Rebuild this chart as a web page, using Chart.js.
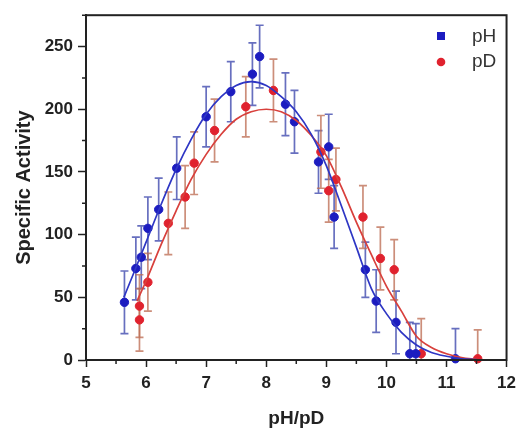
<!DOCTYPE html>
<html><head><meta charset="utf-8">
<script src="https://cdn.jsdelivr.net/npm/chart.js@4.4.1/dist/chart.umd.min.js"></script>
<style>html,body{margin:0;padding:0;background:#fff}canvas{display:block}</style>
</head><body>
<canvas id="c" width="522" height="428"></canvas>
<script>
// ---- data ----
const pHx   = [5.64,5.83,5.92,6.03,6.21,6.51,7.00,7.41,7.77,7.89,8.32,8.47,8.87,9.04,9.13,9.65,9.83,10.16,10.39,10.49,11.15];
const pHy   = [46,73,82,105,120,153,194,214,228,242,204,190,158,170,114,72,47,30,5,5,1];
const pHerr = [25,25,25,25,25,25,24,24,25,25,25,25,25,26,25,22,25,25,25,24,24];

const pDx   = [5.89,5.89,6.03,6.37,6.65,6.80,7.14,7.66,8.12,8.91,9.04,9.16,9.61,9.90,10.13,10.58,11.52];
const pDy   = [43,32,62,109,130,157,183,202,215,166,135,144,114,81,72,5,1];
const pDerr = [25,25,23,25,25,25,25,24,25,29,25,25,25,25,24,28,23];

const pHfitX = [5.63,5.8,6.0,6.25,6.5,6.75,7.0,7.25,7.5,7.75,8.0,8.25,8.5,8.75,9.0,9.25,9.5,9.75,10.0,10.25,10.5,10.75,11.0,11.25,11.5];
const pHfitY = [50,70,94,124,152,176,196,210,219,222,219,210,198,180,155,123,90,57,37,22,12,6,3,1,0.3];

const pDfitX = [5.85,6.0,6.25,6.5,6.75,7.0,7.25,7.5,7.75,8.0,8.25,8.5,8.75,9.0,9.25,9.5,9.75,10.0,10.25,10.5,10.75,11.0,11.25,11.5];
const pDfitY = [47,63,92,119,144,164,180,192,198,200,198,191,179,163,138,110,84,59,39,19,10,5,2,0.5];

const xTicks = [5,6,7,8,9,10,11,12];
const yTicks = [0,50,100,150,200,250];
const xMinor = [5.5,6.5,7.5,8.5,9.5,10.5,11.5];
const yMinor = [25,75,125,175,225,275];
const seriesNames = ['pH','pD'];

const blue = '#1c1cc0', red = '#e0222e';
const pts = (xs, ys) => xs.map((x, i) => ({x, y: ys[i]}));

const errorBars = {
  id: 'errorBars',
  beforeDatasetsDraw(chart) {
    const {ctx, scales: {x, y}} = chart;
    const sets = [[pHx, pHy, pHerr, 'rgba(65,75,175,0.8)'], [pDx, pDy, pDerr, 'rgba(190,110,85,0.78)']];
    ctx.save();
    ctx.lineWidth = 1.7;
    sets.forEach(([xs, ys, es, col]) => {
      ctx.strokeStyle = col;
      xs.forEach((xv, i) => {
        const px = x.getPixelForValue(xv);
        const top = y.getPixelForValue(ys[i] + es[i]);
        const bot = y.getPixelForValue(Math.max(ys[i] - es[i], 0));
        ctx.beginPath();
        ctx.moveTo(px, top); ctx.lineTo(px, bot);
        ctx.moveTo(px - 4, top); ctx.lineTo(px + 4, top);
        if (ys[i] - es[i] >= 0) { ctx.moveTo(px - 4, bot); ctx.lineTo(px + 4, bot); }
        ctx.stroke();
      });
    });
    ctx.restore();
  }
};

const frame = {
  id: 'frame',
  afterDraw(chart) {
    const {ctx, chartArea: a, scales: {x, y}} = chart;
    ctx.save();
    ctx.strokeStyle = '#222';
    ctx.lineWidth = 2;
    ctx.strokeRect(a.left, a.top, a.right - a.left, a.bottom - a.top);
    ctx.lineWidth = 1.5;
    ctx.beginPath();
    xMinor.forEach(v => { const p = x.getPixelForValue(v); ctx.moveTo(p, a.bottom); ctx.lineTo(p, a.bottom + 4); });
    yMinor.forEach(v => { const p = y.getPixelForValue(v); ctx.moveTo(a.left, p); ctx.lineTo(a.left - 4, p); });
    ctx.stroke();
    // legend
    ctx.fillStyle = blue;
    ctx.fillRect(437, 32, 8, 8);
    ctx.fillStyle = red;
    ctx.beginPath(); ctx.arc(441, 62, 4.3, 0, Math.PI * 2); ctx.fill();
    ctx.fillStyle = '#333';
    ctx.font = '19px "Liberation Sans", Arial, sans-serif';
    ctx.textBaseline = 'middle';
    ctx.textAlign = 'left';
    ctx.fillText(seriesNames[0], 472, 37);
    ctx.fillText(seriesNames[1], 472, 62);
    ctx.restore();
  }
};

new Chart(document.getElementById('c'), {
  type: 'scatter',
  data: {
    datasets: [
      {label: 'pH fit', data: pts(pHfitX, pHfitY), showLine: true, borderColor: '#2e36c4', borderWidth: 1.7, pointRadius: 0, cubicInterpolationMode: 'monotone', clip: false},
      {label: 'pD fit', data: pts(pDfitX, pDfitY), showLine: true, borderColor: '#d8403c', borderWidth: 1.7, pointRadius: 0, cubicInterpolationMode: 'monotone', clip: false},
      {label: seriesNames[0], data: pts(pHx, pHy), backgroundColor: blue, borderColor: blue, pointRadius: 4.2, pointStyle: 'circle', clip: false},
      {label: seriesNames[1], data: pts(pDx, pDy), backgroundColor: red, borderColor: red, pointRadius: 4.2, pointStyle: 'circle', clip: false}
    ]
  },
  options: {
    responsive: false,
    animation: false,
    layout: {padding: {left: 0, right: 11, top: 15, bottom: 0}},
    plugins: {legend: {display: false}, tooltip: {enabled: false}},
    scales: {
      x: {
        type: 'linear', min: 5, max: 12,
        afterBuildTicks: s => { s.ticks = xTicks.map(v => ({value: v})); },
        afterFit: s => { s.height = 68; },
        grid: {drawOnChartArea: false, tickLength: 7, tickColor: '#222', tickWidth: 1.5},
        border: {color: '#222', width: 2},
        ticks: {color: '#222', padding: 6, font: {family: '"Liberation Sans", Arial, sans-serif', size: 17, weight: 'bold'}},
        title: {display: true, text: 'pH/pD', color: '#222', padding: {top: 0, bottom: 0}, font: {family: '"Liberation Sans", Arial, sans-serif', size: 19, weight: 'bold', lineHeight: 1.0}}
      },
      y: {
        type: 'linear', min: 0, max: 275,
        afterBuildTicks: s => { s.ticks = yTicks.map(v => ({value: v})); },
        afterFit: s => { s.width = 86; },
        grid: {drawOnChartArea: false, tickLength: 8, tickColor: '#222', tickWidth: 1.5},
        border: {color: '#222', width: 2},
        ticks: {color: '#222', padding: 5, font: {family: '"Liberation Sans", Arial, sans-serif', size: 17, weight: 'bold'}},
        title: {display: true, text: 'Specific Activity', color: '#222', padding: {top: 12, bottom: 0}, font: {family: '"Liberation Sans", Arial, sans-serif', size: 20, weight: 'bold'}}
      }
    }
  },
  plugins: [errorBars, frame]
});
</script>
</body></html>
